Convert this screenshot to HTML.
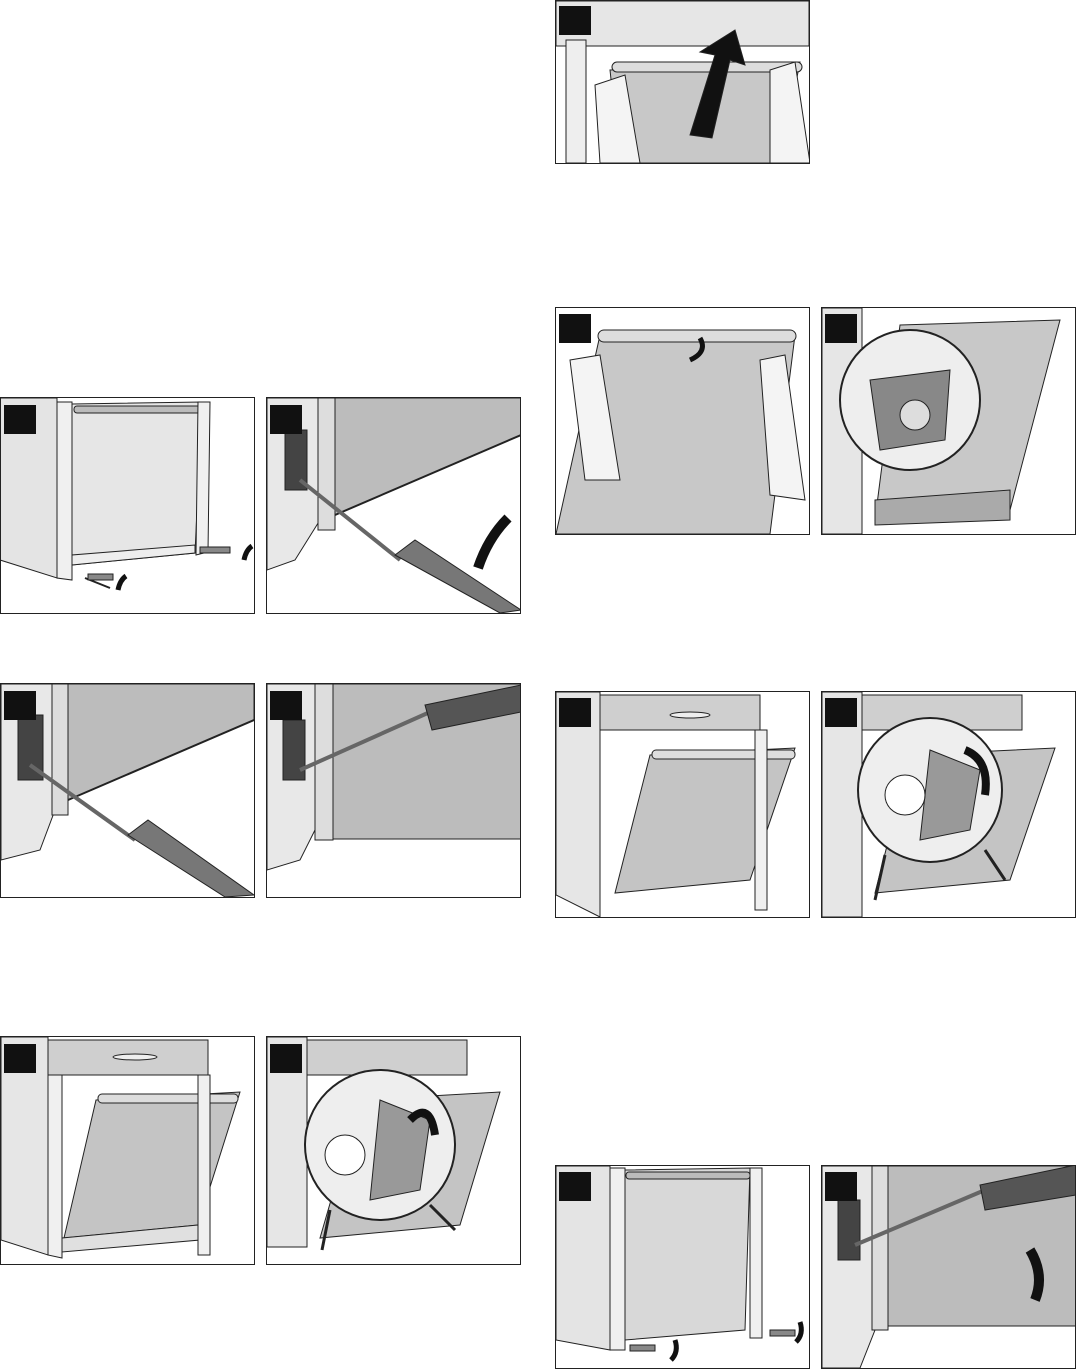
<!DOCTYPE html>
<html><head><meta charset="utf-8"><style>html,body{margin:0;padding:0;background:#fff}svg{display:block}</style></head>
<body>
<svg width="1077" height="1370" viewBox="0 0 1077 1370" xmlns="http://www.w3.org/2000/svg">
<defs>
<clipPath id="cA"><rect x="1" y="398" width="253" height="215"/></clipPath>
<clipPath id="cB"><rect x="267" y="398" width="254" height="215"/></clipPath>
<clipPath id="cC"><rect x="1" y="684" width="253" height="213"/></clipPath>
<clipPath id="cD"><rect x="267" y="684" width="254" height="213"/></clipPath>
<clipPath id="cE"><rect x="1" y="1037" width="253" height="227"/></clipPath>
<clipPath id="cF"><rect x="267" y="1037" width="254" height="227"/></clipPath>
<clipPath id="cG"><rect x="556" y="1" width="253" height="162"/></clipPath>
<clipPath id="cH"><rect x="556" y="308" width="253" height="226"/></clipPath>
<clipPath id="cI"><rect x="822" y="308" width="254" height="226"/></clipPath>
<clipPath id="cJ"><rect x="556" y="692" width="253" height="225"/></clipPath>
<clipPath id="cK"><rect x="822" y="692" width="254" height="225"/></clipPath>
<clipPath id="cL"><rect x="556" y="1166" width="253" height="202"/></clipPath>
<clipPath id="cM"><rect x="822" y="1166" width="254" height="202"/></clipPath>
</defs>
<g stroke="#222" stroke-width="1">

<!-- A -->
<g clip-path="url(#cA)">
<polygon points="0,398 57,398 57,578 0,560" fill="#e4e4e4"/>
<polygon points="57,402 72,402 72,580 57,578" fill="#f0f0f0"/>
<polygon points="72,404 202,402 195,553 72,565" fill="#e6e6e6"/>
<rect x="74" y="406" width="128" height="7" rx="3" fill="#bbb"/>
<polygon points="198,402 210,402 208,552 196,555" fill="#f0f0f0"/>
<polygon points="72,565 195,553 195,545 72,555" fill="#eee"/>
<line x1="85" y1="578" x2="110" y2="588" stroke-width="2"/>
<rect x="88" y="574" width="25" height="6" fill="#888"/>
<rect x="200" y="547" width="30" height="6" fill="#888"/>
<path d="M118,590 q2,-10 8,-14" stroke="#111" stroke-width="5" fill="none"/>
<path d="M244,560 q2,-10 8,-14" stroke="#111" stroke-width="5" fill="none"/>
</g>
<rect x="0.5" y="397.5" width="254" height="216" fill="none"/>
<rect x="4" y="405" width="32" height="29" fill="#111" stroke="none"/>

<!-- B -->
<g clip-path="url(#cB)">
<polygon points="267,398 320,398 320,520 295,560 267,570" fill="#e8e8e8"/>
<rect x="285" y="430" width="22" height="60" fill="#444"/>
<polygon points="318,398 335,398 335,530 318,530" fill="#ddd"/>
<polygon points="335,398 521,398 521,435 335,515" fill="#bcbcbc"/>
<line x1="335" y1="515" x2="521" y2="435" stroke-width="2"/>
<line x1="300" y1="480" x2="400" y2="560" stroke-width="4" stroke="#666"/>
<polygon points="395,555 415,540 521,610 500,613" fill="#777"/>
<path d="M478,568 q10,-30 30,-50" stroke="#111" stroke-width="10" fill="none"/>
</g>
<rect x="266.5" y="397.5" width="254" height="216" fill="none"/>
<rect x="270" y="405" width="32" height="29" fill="#111" stroke="none"/>

<!-- C -->
<g clip-path="url(#cC)">
<polygon points="1,684 55,684 55,810 40,850 1,860" fill="#e8e8e8"/>
<rect x="18" y="715" width="25" height="65" fill="#444"/>
<polygon points="52,684 68,684 68,815 52,815" fill="#ddd"/>
<polygon points="68,684 254,684 254,720 68,800" fill="#bcbcbc"/>
<line x1="68" y1="800" x2="254" y2="720" stroke-width="2"/>
<line x1="30" y1="765" x2="135" y2="840" stroke-width="4" stroke="#666"/>
<polygon points="128,835 148,820 254,895 225,897" fill="#777"/>
</g>
<rect x="0.5" y="683.5" width="254" height="214" fill="none"/>
<rect x="4" y="691" width="32" height="29" fill="#111" stroke="none"/>

<!-- D -->
<g clip-path="url(#cD)">
<polygon points="267,684 320,684 320,820 300,860 267,870" fill="#e8e8e8"/>
<rect x="283" y="720" width="22" height="60" fill="#444"/>
<polygon points="315,684 333,684 333,840 315,840" fill="#ddd"/>
<rect x="333" y="684" width="188" height="155" fill="#bcbcbc"/>
<line x1="300" y1="770" x2="430" y2="712" stroke-width="4" stroke="#666"/>
<polygon points="425,705 521,685 521,712 432,730" fill="#555"/>
</g>
<rect x="266.5" y="683.5" width="254" height="214" fill="none"/>
<rect x="270" y="691" width="32" height="29" fill="#111" stroke="none"/>

<!-- E -->
<g clip-path="url(#cE)">
<polygon points="1,1037 48,1037 48,1255 1,1240" fill="#e6e6e6"/>
<rect x="48" y="1040" width="160" height="35" fill="#cfcfcf"/>
<ellipse cx="135" cy="1057" rx="22" ry="3" fill="#eee"/>
<polygon points="48,1075 62,1075 62,1258 48,1255" fill="#f0f0f0"/>
<polygon points="96,1100 240,1092 198,1225 64,1238" fill="#c4c4c4"/>
<rect x="98" y="1094" width="140" height="9" rx="4" fill="#ddd"/>
<polygon points="62,1238 198,1225 200,1240 62,1252" fill="#e0e0e0"/>
<rect x="198" y="1075" width="12" height="180" fill="#f0f0f0"/>
</g>
<rect x="0.5" y="1036.5" width="254" height="228" fill="none"/>
<rect x="4" y="1044" width="32" height="29" fill="#111" stroke="none"/>

<!-- F -->
<g clip-path="url(#cF)">
<rect x="267" y="1037" width="40" height="210" fill="#e6e6e6"/>
<rect x="307" y="1040" width="160" height="35" fill="#cfcfcf"/>
<polygon points="360,1100 500,1092 460,1225 320,1238" fill="#c4c4c4"/>
<circle cx="380" cy="1145" r="75" fill="#eee" stroke-width="2"/>
<polygon points="380,1100 430,1120 420,1190 370,1200" fill="#999"/>
<circle cx="345" cy="1155" r="20" fill="#fff"/>
<path d="M410,1120 q20,-20 25,15" stroke="#111" stroke-width="8" fill="none"/>
<line x1="330" y1="1210" x2="322" y2="1250" stroke-width="3"/>
<line x1="430" y1="1205" x2="455" y2="1230" stroke-width="3"/>
</g>
<rect x="266.5" y="1036.5" width="254" height="228" fill="none"/>
<rect x="270" y="1044" width="32" height="29" fill="#111" stroke="none"/>

<!-- G -->
<g clip-path="url(#cG)">
<rect x="556" y="1" width="253" height="45" fill="#e6e6e6"/>
<rect x="566" y="40" width="20" height="123" fill="#eee"/>
<polygon points="610,70 800,62 780,163 620,163" fill="#c8c8c8"/>
<rect x="612" y="62" width="190" height="10" rx="5" fill="#ddd"/>
<polygon points="595,85 625,75 640,163 600,163" fill="#f4f4f4"/>
<polygon points="770,70 795,62 810,163 770,163" fill="#f4f4f4"/>
<polygon points="690,135 715,55 700,52 735,30 745,65 730,60 712,138" fill="#111"/>
</g>
<rect x="555.5" y="0.5" width="254" height="163" fill="none"/>
<rect x="559" y="6" width="32" height="29" fill="#111" stroke="none"/>

<!-- H -->
<g clip-path="url(#cH)">
<polygon points="600,335 795,335 770,534 556,534" fill="#c8c8c8"/>
<rect x="598" y="330" width="198" height="12" rx="6" fill="#ddd"/>
<polygon points="570,360 600,355 620,480 585,480" fill="#f4f4f4"/>
<polygon points="760,360 785,355 805,500 770,495" fill="#f4f4f4"/>
<path d="M690,360 q18,-8 10,-22" stroke="#111" stroke-width="5" fill="none"/>
</g>
<rect x="555.5" y="307.5" width="254" height="227" fill="none"/>
<rect x="559" y="314" width="32" height="29" fill="#111" stroke="none"/>

<!-- I -->
<g clip-path="url(#cI)">
<rect x="822" y="308" width="40" height="226" fill="#e6e6e6"/>
<polygon points="900,325 1060,320 1010,510 875,520" fill="#c8c8c8"/>
<circle cx="910" cy="400" r="70" fill="#eee" stroke-width="2"/>
<polygon points="870,380 950,370 945,440 880,450" fill="#888"/>
<circle cx="915" cy="415" r="15" fill="#ddd"/>
<polygon points="875,500 1010,490 1010,520 875,525" fill="#aaa"/>
</g>
<rect x="821.5" y="307.5" width="254" height="227" fill="none"/>
<rect x="825" y="314" width="32" height="29" fill="#111" stroke="none"/>

<!-- J -->
<g clip-path="url(#cJ)">
<polygon points="556,692 600,692 600,917 556,895" fill="#e6e6e6"/>
<rect x="600" y="695" width="160" height="35" fill="#cfcfcf"/>
<ellipse cx="690" cy="715" rx="20" ry="3" fill="#eee"/>
<polygon points="650,755 795,748 750,880 615,893" fill="#c4c4c4"/>
<rect x="652" y="750" width="143" height="9" rx="4" fill="#ddd"/>
<rect x="755" y="730" width="12" height="180" fill="#f0f0f0"/>
</g>
<rect x="555.5" y="691.5" width="254" height="226" fill="none"/>
<rect x="559" y="698" width="32" height="29" fill="#111" stroke="none"/>

<!-- K -->
<g clip-path="url(#cK)">
<rect x="822" y="692" width="40" height="225" fill="#e6e6e6"/>
<rect x="862" y="695" width="160" height="35" fill="#cfcfcf"/>
<polygon points="910,755 1055,748 1010,880 875,893" fill="#c4c4c4"/>
<circle cx="930" cy="790" r="72" fill="#eee" stroke-width="2"/>
<polygon points="930,750 980,770 970,830 920,840" fill="#999"/>
<circle cx="905" cy="795" r="20" fill="#fff"/>
<path d="M965,750 q25,10 20,45" stroke="#111" stroke-width="8" fill="none"/>
<line x1="885" y1="855" x2="875" y2="900" stroke-width="3"/>
<line x1="985" y1="850" x2="1005" y2="880" stroke-width="3"/>
</g>
<rect x="821.5" y="691.5" width="254" height="226" fill="none"/>
<rect x="825" y="698" width="32" height="29" fill="#111" stroke="none"/>

<!-- L -->
<g clip-path="url(#cL)">
<polygon points="556,1166 610,1166 610,1350 556,1340" fill="#e4e4e4"/>
<polygon points="610,1168 625,1168 625,1350 610,1350" fill="#f0f0f0"/>
<polygon points="625,1170 750,1168 745,1330 625,1340" fill="#d8d8d8"/>
<rect x="626" y="1172" width="124" height="7" rx="3" fill="#bbb"/>
<rect x="750" y="1168" width="12" height="170" fill="#f0f0f0"/>
<rect x="630" y="1345" width="25" height="6" fill="#888"/>
<rect x="770" y="1330" width="25" height="6" fill="#888"/>
<path d="M675,1340 q4,12 -4,20" stroke="#111" stroke-width="5" fill="none"/>
<path d="M800,1322 q4,12 -4,20" stroke="#111" stroke-width="5" fill="none"/>
</g>
<rect x="555.5" y="1165.5" width="254" height="203" fill="none"/>
<rect x="559" y="1172" width="32" height="29" fill="#111" stroke="none"/>

<!-- M -->
<g clip-path="url(#cM)">
<polygon points="822,1166 875,1166 875,1330 860,1368 822,1368" fill="#e8e8e8"/>
<rect x="838" y="1200" width="22" height="60" fill="#444"/>
<polygon points="872,1166 888,1166 888,1330 872,1330" fill="#ddd"/>
<rect x="888" y="1166" width="188" height="160" fill="#bcbcbc"/>
<line x1="855" y1="1245" x2="985" y2="1190" stroke-width="4" stroke="#666"/>
<polygon points="980,1185 1076,1165 1076,1195 985,1210" fill="#555"/>
<path d="M1030,1250 q15,25 5,50" stroke="#111" stroke-width="10" fill="none"/>
</g>
<rect x="821.5" y="1165.5" width="254" height="203" fill="none"/>
<rect x="825" y="1172" width="32" height="29" fill="#111" stroke="none"/>

</g>
</svg>
</body></html>
